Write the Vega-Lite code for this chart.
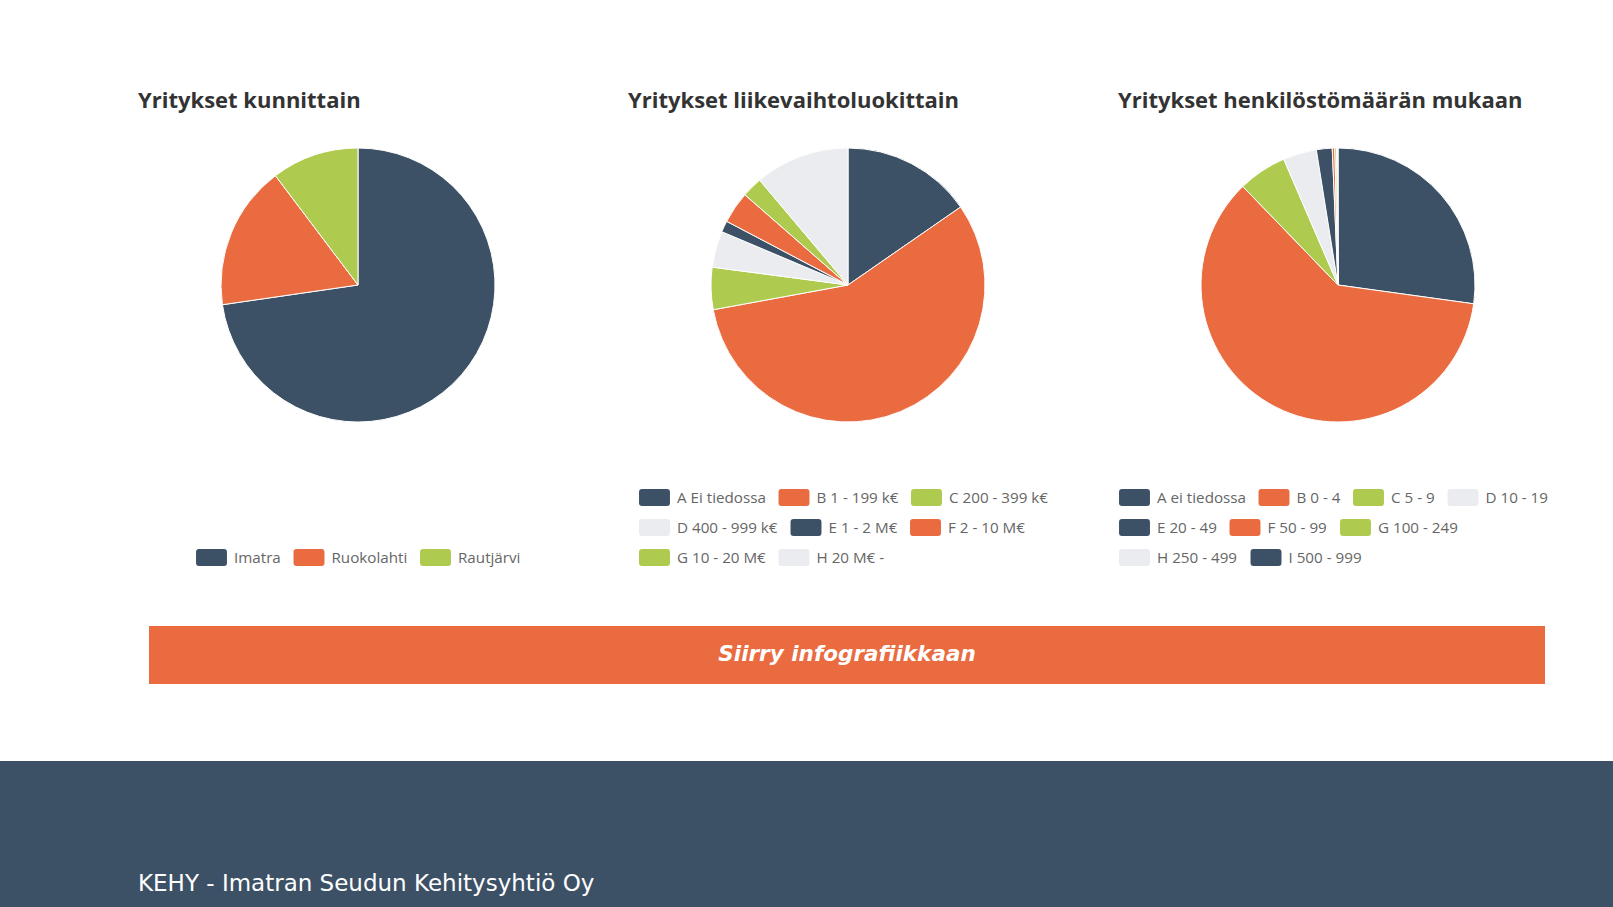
{
  "$schema": "https://vega.github.io/schema/vega-lite/v6.json",
  "background": "#ffffff",
  "padding": {"left": 0, "top": 90, "right": 0, "bottom": 0},
  "config": {
    "view": {"stroke": null},
    "font": "Open Sans",
    "title": {"font": "Open Sans", "fontSize": 22, "fontWeight": 700, "color": "#333333", "anchor": "start", "offset": 33},
    "legend": {
      "orient": "none",
      "direction": "horizontal",
      "padding": 0,
      "labelFont": "Open Sans",
      "labelFontSize": 15.2,
      "labelColor": "#666666",
      "labelOffset": 14,
      "symbolType": "M -1.47 -1 L 1.47 -1 Q 1.82 -1 1.82 -0.65 L 1.82 0.65 Q 1.82 1 1.47 1 L -1.47 1 Q -1.82 1 -1.82 0.65 L -1.82 -0.65 Q -1.82 -1 -1.47 -1 Z",
      "symbolSize": 289,
      "symbolStrokeWidth": 0,
      "symbolStrokeColor": "transparent",
      "symbolOpacity": 1,
      "columnPadding": 12.5
    }
  },
  "spacing": 77,
  "vconcat": [
    {
      "spacing": 60,
      "vconcat": [
        {
          "spacing": 50,
          "resolve": {
            "scale": {"color": "independent", "fill": "independent", "stroke": "independent", "theta": "independent"},
            "legend": {"color": "independent", "fill": "independent", "stroke": "independent"}
          },
          "hconcat": [
            {"width": 88, "height": 274, "data": {"values": []}, "mark": {"type": "rect"}, "encoding": {}},
            {
              "name": "p1",
              "width": 440, "height": 274,
              "title": {"text": "Yritykset kunnittain"},
              "data": {"values": [
                {"kunta": "Imatra", "osuus": 72.7},
                {"kunta": "Ruokolahti", "osuus": 17.0},
                {"kunta": "Rautjärvi", "osuus": 10.3}
              ]},
              "mark": {"type": "arc", "stroke": "#ffffff", "strokeWidth": 1},
              "encoding": {
                "theta": {"field": "osuus", "type": "quantitative", "stack": true},
                "order": {"field": "osuus", "type": "quantitative", "sort": "descending"},
                "color": {"field": "kunta", "type": "nominal",
                  "scale": {"domain": ["Imatra", "Ruokolahti", "Rautjärvi"], "range": ["#3d5166", "#ea6b40", "#aecb4f"]},
                  "legend": {"title": null, "legendX": 65, "legendY": 401}}
              }
            },
            {
              "name": "p2",
              "width": 440, "height": 274,
              "title": {"text": "Yritykset liikevaihtoluokittain"},
              "data": {"values": [
                {"luokka": "A Ei tiedossa", "osuus": 15.36},
                {"luokka": "B 1 - 199 k€", "osuus": 56.75},
                {"luokka": "C 200 - 399 k€", "osuus": 4.97},
                {"luokka": "D 400 - 999 k€", "osuus": 4.28},
                {"luokka": "E 1 - 2 M€", "osuus": 1.33},
                {"luokka": "F 2 - 10 M€", "osuus": 3.75},
                {"luokka": "G 10 - 20 M€", "osuus": 2.42},
                {"luokka": "H 20 M€ -", "osuus": 11.14}
              ]},
              "layer": [
                {
                  "mark": {"type": "arc", "filled": false},
                  "encoding": {
                    "theta": {"field": "osuus", "type": "quantitative", "stack": true},
                    "order": {"field": "luokka", "type": "ordinal"},
                    "stroke": {"field": "luokka", "type": "nominal",
                      "scale": {"domain": ["G 10 - 20 M€", "H 20 M€ -", "A Ei tiedossa", "B 1 - 199 k€", "C 200 - 399 k€", "D 400 - 999 k€", "E 1 - 2 M€", "F 2 - 10 M€"],
                                "range": ["#aecb4f", "#ebecf0", "#ffffff", "#ffffff", "#ffffff", "#ffffff", "#ffffff", "#ffffff"]},
                      "legend": {"title": null, "values": ["G 10 - 20 M€", "H 20 M€ -"], "legendX": 18, "legendY": 401,
                        "encode": {"symbols": {"update": {"fill": {"signal": "datum.value === 'H 20 M€ -' ? '#ebecf0' : '#aecb4f'"}}}}}}
                  }
                },
                {
                  "mark": {"type": "arc", "stroke": "#ffffff", "strokeWidth": 1},
                  "encoding": {
                    "theta": {"field": "osuus", "type": "quantitative", "stack": true},
                    "order": {"field": "luokka", "type": "ordinal"},
                    "color": {"field": "luokka", "type": "nominal",
                      "scale": {"domain": ["A Ei tiedossa", "B 1 - 199 k€", "C 200 - 399 k€", "D 400 - 999 k€", "E 1 - 2 M€", "F 2 - 10 M€", "G 10 - 20 M€", "H 20 M€ -"],
                                "range": ["#3d5166", "#ea6b40", "#aecb4f", "#ebecf0", "#3d5166", "#ea6b40", "#aecb4f", "#ebecf0"]},
                      "legend": {"title": null, "values": ["A Ei tiedossa", "B 1 - 199 k€", "C 200 - 399 k€"], "legendX": 18, "legendY": 341}}
                  }
                },
                {
                  "mark": {"type": "arc", "stroke": "#ffffff", "strokeWidth": 1},
                  "encoding": {
                    "theta": {"field": "osuus", "type": "quantitative", "stack": true},
                    "order": {"field": "luokka", "type": "ordinal"},
                    "fill": {"field": "luokka", "type": "nominal",
                      "scale": {"domain": ["H 20 M€ -", "G 10 - 20 M€", "F 2 - 10 M€", "E 1 - 2 M€", "D 400 - 999 k€", "C 200 - 399 k€", "B 1 - 199 k€", "A Ei tiedossa"],
                                "range": ["#ebecf0", "#aecb4f", "#ea6b40", "#3d5166", "#ebecf0", "#aecb4f", "#ea6b40", "#3d5166"]},
                      "legend": {"title": null, "values": ["D 400 - 999 k€", "E 1 - 2 M€", "F 2 - 10 M€"], "legendX": 18, "legendY": 371}}
                  }
                }
              ]
            },
            {
              "name": "p3",
              "width": 440, "height": 274,
              "title": {"text": "Yritykset henkilöstömäärän mukaan"},
              "data": {"values": [
                {"luokka": "A ei tiedossa", "osuus": 27.2},
                {"luokka": "B 0 - 4", "osuus": 60.6},
                {"luokka": "C 5 - 9", "osuus": 5.75},
                {"luokka": "D 10 - 19", "osuus": 3.95},
                {"luokka": "E 20 - 49", "osuus": 1.86},
                {"luokka": "F 50 - 99", "osuus": 0.3},
                {"luokka": "G 100 - 249", "osuus": 0.22},
                {"luokka": "H 250 - 499", "osuus": 0.1},
                {"luokka": "I 500 - 999", "osuus": 0.05}
              ]},
              "layer": [
                {
                  "mark": {"type": "arc", "filled": false},
                  "encoding": {
                    "theta": {"field": "osuus", "type": "quantitative", "stack": true},
                    "order": {"field": "luokka", "type": "ordinal"},
                    "stroke": {"field": "luokka", "type": "nominal",
                      "scale": {"domain": ["H 250 - 499", "I 500 - 999", "A ei tiedossa", "B 0 - 4", "C 5 - 9", "D 10 - 19", "E 20 - 49", "F 50 - 99", "G 100 - 249"],
                                "range": ["#ebecf0", "#3d5166", "#ffffff", "#ffffff", "#ffffff", "#ffffff", "#ffffff", "#ffffff", "#ffffff"]},
                      "legend": {"title": null, "values": ["H 250 - 499", "I 500 - 999"], "legendX": 8, "legendY": 401,
                        "encode": {"symbols": {"update": {"fill": {"signal": "datum.value === 'H 250 - 499' ? '#ebecf0' : '#3d5166'"}}}}}}
                  }
                },
                {
                  "mark": {"type": "arc", "stroke": "#ffffff", "strokeWidth": 1},
                  "encoding": {
                    "theta": {"field": "osuus", "type": "quantitative", "stack": true},
                    "order": {"field": "luokka", "type": "ordinal"},
                    "color": {"field": "luokka", "type": "nominal",
                      "scale": {"domain": ["A ei tiedossa", "B 0 - 4", "C 5 - 9", "D 10 - 19", "E 20 - 49", "F 50 - 99", "G 100 - 249", "H 250 - 499", "I 500 - 999"],
                                "range": ["#3d5166", "#ea6b40", "#aecb4f", "#ebecf0", "#3d5166", "#ea6b40", "#aecb4f", "#ebecf0", "#3d5166"]},
                      "legend": {"title": null, "values": ["A ei tiedossa", "B 0 - 4", "C 5 - 9", "D 10 - 19"], "legendX": 8, "legendY": 341}}
                  }
                },
                {
                  "mark": {"type": "arc", "stroke": "#ffffff", "strokeWidth": 1},
                  "encoding": {
                    "theta": {"field": "osuus", "type": "quantitative", "stack": true},
                    "order": {"field": "luokka", "type": "ordinal"},
                    "fill": {"field": "luokka", "type": "nominal",
                      "scale": {"domain": ["I 500 - 999", "H 250 - 499", "G 100 - 249", "F 50 - 99", "E 20 - 49", "D 10 - 19", "C 5 - 9", "B 0 - 4", "A ei tiedossa"],
                                "range": ["#3d5166", "#ebecf0", "#aecb4f", "#ea6b40", "#3d5166", "#ebecf0", "#aecb4f", "#ea6b40", "#3d5166"]},
                      "legend": {"title": null, "values": ["E 20 - 49", "F 50 - 99", "G 100 - 249"], "legendX": 8, "legendY": 371}}
                  }
                }
              ]
            }
          ]
        },
        {
          "spacing": 0,
          "hconcat": [
            {"width": 149, "height": 58, "data": {"values": []}, "mark": {"type": "rect"}, "encoding": {}},
            {
              "width": 1396, "height": 58,
              "view": {"fill": "#ea6b40", "stroke": null},
              "data": {"values": [{"teksti": "Siirry infografiikkaan"}]},
              "mark": {"type": "text", "font": "DejaVu Sans", "fontSize": 21.5, "fontWeight": "bold", "fontStyle": "italic", "color": "#ffffff"},
              "encoding": {"text": {"field": "teksti", "type": "nominal"}}
            }
          ]
        }
      ]
    },
    {
      "width": 1613, "height": 146,
      "view": {"fill": "#3d5166", "stroke": null},
      "data": {"values": [{"teksti": "KEHY - Imatran Seudun Kehitysyhtiö Oy"}]},
      "mark": {"type": "text", "align": "left", "dx": -668.5, "dy": 50, "font": "DejaVu Sans", "fontSize": 23, "color": "#ffffff"},
      "encoding": {"text": {"field": "teksti", "type": "nominal"}}
    }
  ]
}
